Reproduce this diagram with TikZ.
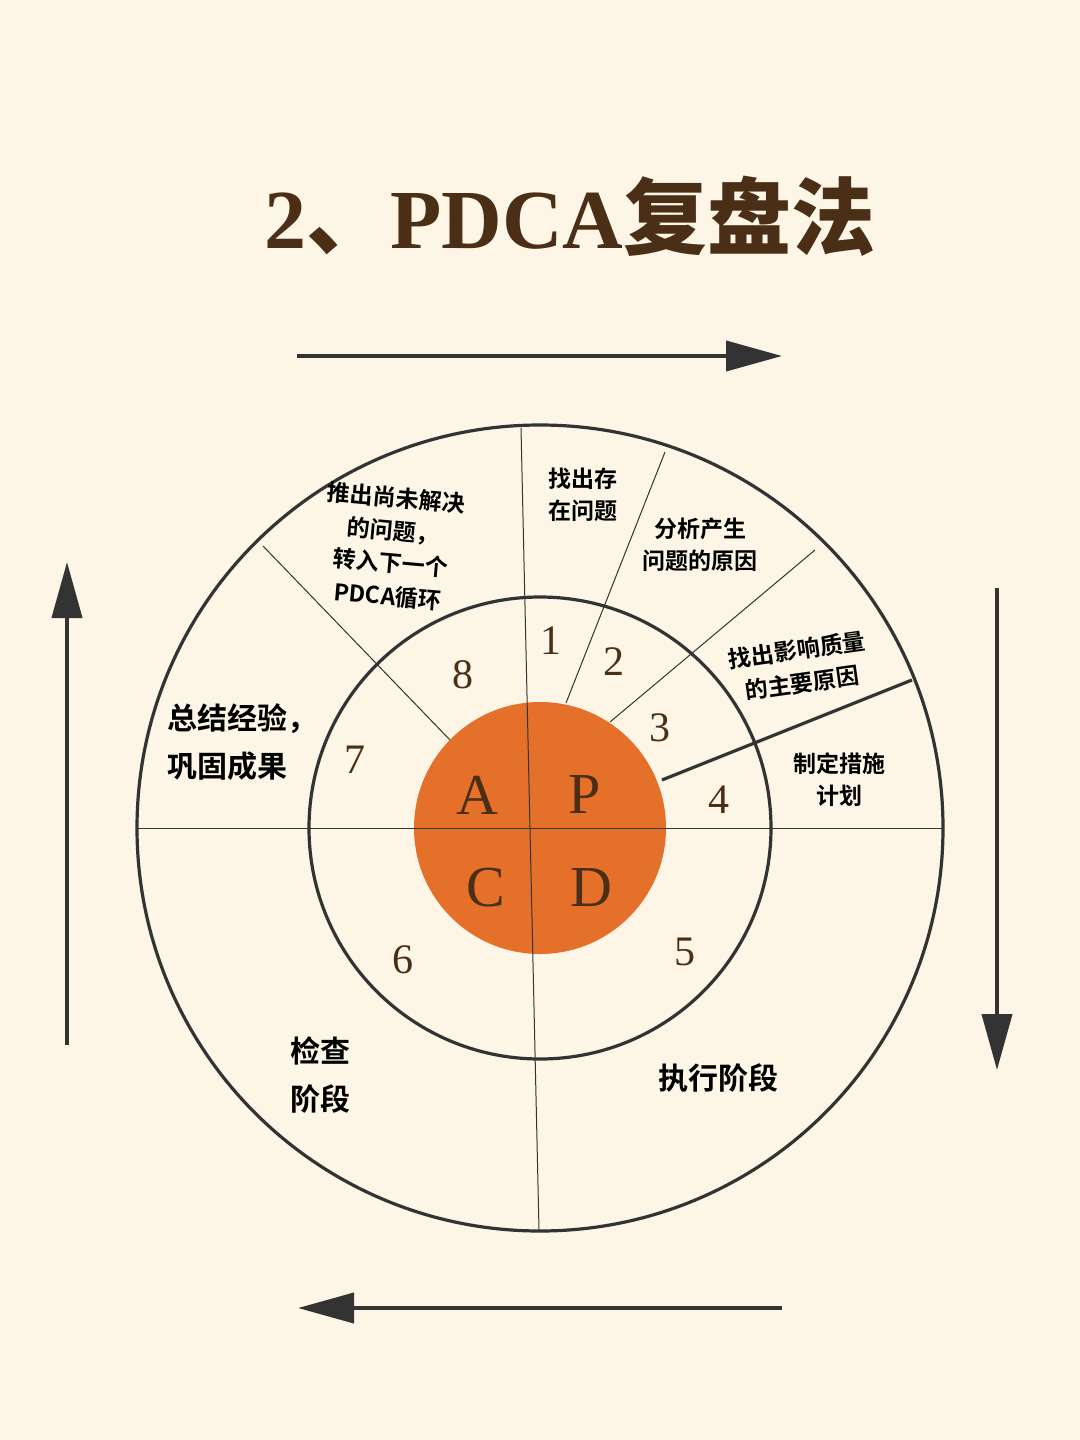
\documentclass[tikz,border=0pt]{standalone}
\usepackage{fontspec}
\newfontfamily\cjk{Noto Sans CJK SC}
\newfontfamily\cjkb{Noto Sans CJK SC Bold}
\newfontfamily\lser{Liberation Serif}
\usetikzlibrary{arrows.meta}
\definecolor{bg}{HTML}{FDF6E6}
\definecolor{ink}{HTML}{333333}
\definecolor{brn}{HTML}{4A2E16}
\definecolor{org}{HTML}{E5702A}
\tikzset{
 lab/.style={font=\cjkb\fontsize{11.5}{16}\selectfont,align=center,text=black},
 big/.style={font=\cjkb\fontsize{15}{24}\selectfont,align=left,text=black},
 num/.style={font=\lser\fontsize{21}{21}\selectfont,text=brn},
 let/.style={font=\lser\fontsize{29}{29}\selectfont,text=brn},
 thin/.style={draw=ink,line width=0.5pt},
 ring/.style={draw=ink,line width=1.6pt},
 flow/.style={draw=ink,line width=2pt,-{Triangle[length=28pt,width=15pt]}}
}
\begin{document}
\begin{tikzpicture}[x=0.5pt,y=-0.5pt]
\fill[bg] (0,0) rectangle (1080,1440);
\useasboundingbox (0,0) rectangle (1080,1440);
\node[text=brn,inner sep=0] (title) at (570,216) {\lser\bfseries\fontsize{42}{42}\selectfont 2{\cjkb 、}PDCA{\cjkb 复盘法}};
\coordinate (c) at (540,828);
\fill[org] (c) circle (126);
\draw[ring] (c) circle (403);
\draw[ring] (c) circle (231);
\coordinate (hl) at (137,828); \coordinate (hr) at (943,828);
\coordinate (vt) at (521,428); \coordinate (vb) at (539,1230);
\draw[thin] (hl) -- (hr);
\draw[thin] (vt) -- (vb);
\coordinate (a1) at (665,452); \coordinate (b1) at (566,703);
\coordinate (a2) at (815,550); \coordinate (b2) at (610,722);
\coordinate (a3) at (912,680); \coordinate (b3) at (662,780);
\coordinate (a4) at (263,546); \coordinate (b4) at (450,740);
\draw[thin] (a1)--(b1); \draw[thin] (a2)--(b2); \draw[thin] (a4)--(b4);
\draw[draw=ink,line width=1.6pt] (a3)--(b3);
\coordinate (t1) at (297,356); \coordinate (t2) at (782,356);
\coordinate (r1) at (997,588); \coordinate (r2) at (997,1070);
\coordinate (d1) at (782,1308); \coordinate (d2) at (298,1308);
\coordinate (l1) at (67,1045); \coordinate (l2) at (67,562);
\draw[flow] (t1)--(t2); \draw[flow] (r1)--(r2);
\draw[flow] (d1)--(d2); \draw[flow] (l1)--(l2);
\node[let] (A) at (477,795) {A};
\node[let] (P) at (585,795) {P};
\node[let] (C) at (486,888) {C};
\node[let] (D) at (591,888) {D};
\node[num] (n1) at (551,641) {1};
\node[num] (n2) at (614,662) {2};
\node[num] (n3) at (660,728) {3};
\node[num] (n4) at (719,800) {4};
\node[num] (n5) at (685,952) {5};
\node[num] (n6) at (403,960) {6};
\node[num] (n7) at (355,760) {7};
\node[num] (n8) at (463,675) {8};
\node[lab] (s1) at (583,495) {找出存\\在问题};
\node[lab] (s2) at (700,545) {分析产生\\问题的原因};
\node[lab,rotate=8,inner sep=0] (s3a) at (797,650) {找出影响质量};
\node[lab,rotate=8,inner sep=0] (s3b) at (802,683) {的主要原因};
\node[lab] (s4) at (839,780) {制定措施\\计划};
\node[lab,rotate=-5,font=\cjkb\fontsize{11.5}{16.5}\selectfont] (s8) at (392,547) {推出尚未解决\\的问题，\\转入下一个\\PDCA循环};
\node[big] (s7) at (242,742) {总结经验，\\巩固成果};
\node[big] (s6) at (320,1075) {检查\\阶段};
\node[big] (s5) at (718,1078) {执行阶段};
\end{tikzpicture}
\end{document}
